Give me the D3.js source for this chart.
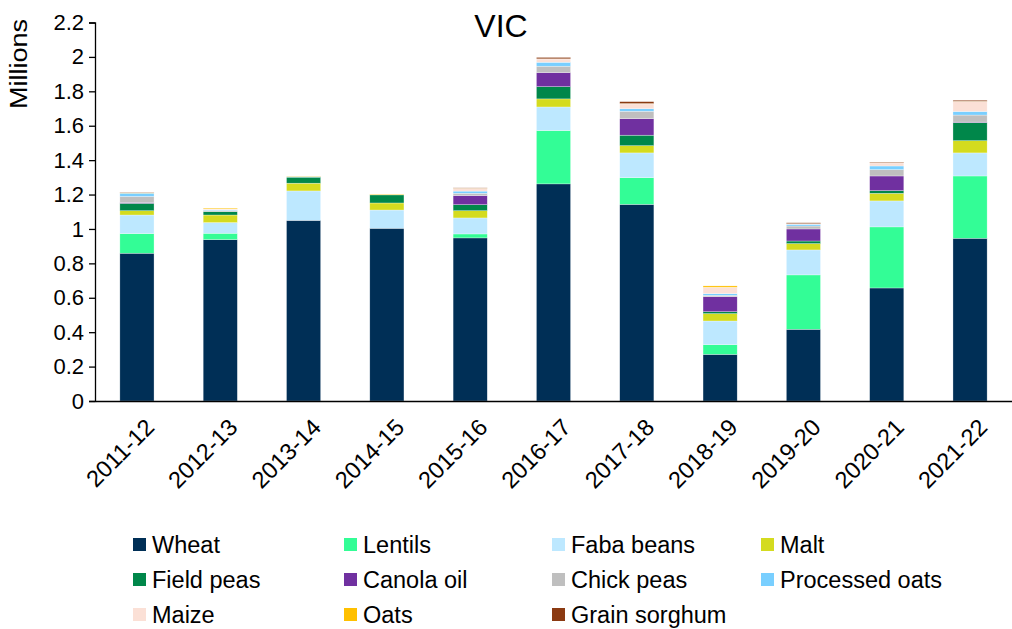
<!DOCTYPE html>
<html>
<head>
<meta charset="utf-8">
<script src="https://cdn.jsdelivr.net/npm/d3@7"></script>
<style>
  body { margin: 0; background: #fff; }
  svg text { font-family: Arial, "Liberation Sans", sans-serif; fill: #000; }
</style>
</head>
<body>
<svg id="chart" width="1012" height="629"></svg>
<script>
// financial years on the x axis
var years = ['2011-12','2012-13','2013-14','2014-15','2015-16','2016-17','2017-18','2018-19','2019-20','2020-21','2021-22'];

// values in millions (stack order bottom -> top)
var wheat          = [0.859, 0.938, 1.050, 1.004, 0.948, 1.262, 1.143, 0.271, 0.417, 0.657, 0.946];
var lentils        = [0.114, 0.037, 0.000, 0.000, 0.023, 0.310, 0.155, 0.056, 0.316, 0.355, 0.362];
var fabaBeans      = [0.108, 0.062, 0.171, 0.106, 0.093, 0.137, 0.144, 0.138, 0.145, 0.151, 0.134];
var malt           = [0.025, 0.044, 0.045, 0.041, 0.042, 0.047, 0.042, 0.043, 0.037, 0.044, 0.071];
var fieldPeas      = [0.043, 0.020, 0.035, 0.047, 0.035, 0.071, 0.061, 0.011, 0.015, 0.016, 0.105];
var canolaOil      = [0.005, 0.000, 0.000, 0.000, 0.053, 0.082, 0.096, 0.087, 0.070, 0.085, 0.003];
var chickPeas      = [0.035, 0.006, 0.000, 0.000, 0.013, 0.037, 0.043, 0.008, 0.017, 0.037, 0.041];
var processedOats  = [0.019, 0.004, 0.003, 0.000, 0.013, 0.023, 0.015, 0.010, 0.010, 0.021, 0.021];
var maize          = [0.000, 0.005, 0.000, 0.000, 0.016, 0.019, 0.028, 0.037, 0.003, 0.018, 0.058];
var oats           = [0.002, 0.005, 0.002, 0.004, 0.001, 0.001, 0.002, 0.008, 0.001, 0.001, 0.001];
var grainSorghum   = [0.003, 0.000, 0.000, 0.000, 0.002, 0.008, 0.011, 0.000, 0.005, 0.003, 0.006];

var seriesNames  = ['Wheat','Lentils','Faba beans','Malt','Field peas','Canola oil','Chick peas','Processed oats','Maize','Oats','Grain sorghum'];
var seriesValues = [wheat, lentils, fabaBeans, malt, fieldPeas, canolaOil, chickPeas, processedOats, maize, oats, grainSorghum];
var seriesColors = ['#002f56','#33fd96','#bde8ff','#d4db1f','#00874a','#7030a0','#bfbfbf','#79cfff','#fbe0d6','#ffc000','#8b3a12'];

var yTicks = [0,0.2,0.4,0.6,0.8,1,1.2,1.4,1.6,1.8,2,2.2];

var svg = d3.select('#chart');

var x = d3.scaleBand().domain(years).range([95.3, 1011.7]).paddingInner(0.59).paddingOuter(0.295);
var y = d3.scaleLinear().domain([0, 2.2]).range([401, 22.5]);

// build rows for d3.stack
var rows = years.map(function(yr, i){
  var r = { year: yr };
  seriesNames.forEach(function(n, k){ r[n] = seriesValues[k][i]; });
  return r;
});
var stacked = d3.stack().keys(seriesNames)(rows);

svg.append('g').selectAll('g')
  .data(stacked)
  .join('g')
    .attr('fill', function(d, k){ return seriesColors[k]; })
  .selectAll('rect')
  .data(function(d){ return d; })
  .join('rect')
    .attr('x', function(d){ return x(d.data.year); })
    .attr('width', x.bandwidth())
    .attr('y', function(d){ return y(d[1]); })
    .attr('height', function(d){ return Math.max(0, y(d[0]) - y(d[1])); })
    .attr('stroke', '#fff')
    .attr('stroke-width', 0.5)
    .attr('stroke-opacity', 0.6);

// y axis
var yAxis = svg.append('g')
  .attr('transform', 'translate(95,0)')
  .call(d3.axisLeft(y).tickValues(yTicks).tickSize(6).tickPadding(5).tickFormat(d3.format('~g')));
yAxis.select('.domain').attr('stroke', '#000').attr('stroke-width', 1.3);
yAxis.selectAll('.tick line').attr('stroke', '#000').attr('stroke-width', 1.3);
yAxis.selectAll('text').style('font-size', '22px').style('font-family', 'Arial, "Liberation Sans", sans-serif').attr('fill', '#000');

// x axis
var xAxis = svg.append('g')
  .attr('transform', 'translate(0,401)')
  .call(d3.axisBottom(x).tickSize(0).tickSizeOuter(0));
xAxis.select('.domain').attr('stroke', '#000').attr('stroke-width', 1.3);
xAxis.selectAll('text')
  .style('font-size', '23.5px')
  .style('font-family', 'Arial, "Liberation Sans", sans-serif')
  .attr('fill', '#000')
  .attr('text-anchor', 'end')
  .attr('dy', '0.35em')
  .attr('y', 0)
  .attr('transform', 'translate(13,22) rotate(-45)');

// titles
svg.append('text')
  .attr('x', 501).attr('y', 37)
  .attr('text-anchor', 'middle')
  .style('font-size', '32px')
  .text('VIC');

svg.append('text')
  .attr('transform', 'translate(27,64) rotate(-90)')
  .attr('text-anchor', 'middle')
  .attr('textLength', 90)
  .attr('lengthAdjust', 'spacingAndGlyphs')
  .style('font-size', '23px')
  .text('Millions');

// legend, 4 columns
var legX = [133, 344, 552, 761];
var legY = [545, 580, 615];
var leg = svg.append('g').selectAll('g')
  .data(seriesNames)
  .join('g')
    .attr('transform', function(d, i){ return 'translate(' + legX[i % 4] + ',' + legY[Math.floor(i / 4)] + ')'; });
leg.append('rect')
  .attr('x', 0).attr('y', -7)
  .attr('width', 13).attr('height', 13)
  .attr('fill', function(d, i){ return seriesColors[i]; });
leg.append('text')
  .attr('x', 19).attr('y', 0)
  .attr('dy', '0.35em')
  .style('font-size', '23.5px')
  .text(function(d){ return d; });
</script>
</body>
</html>
